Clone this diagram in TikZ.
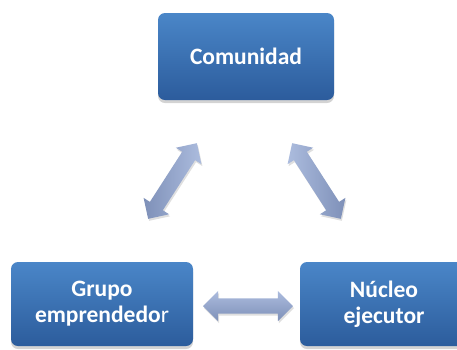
\documentclass[tikz,border=0pt]{standalone}
\usepackage{fontspec}
\setmainfont{Carlito}
\usetikzlibrary{shapes.arrows,shadows}
\definecolor{boxtop}{RGB}{74,134,200}
\definecolor{boxbot}{RGB}{44,92,156}
\definecolor{arlight}{RGB}{172,188,222}
\definecolor{ardark}{RGB}{126,144,184}
\begin{document}
\begin{tikzpicture}[x=1pt,y=-1pt,
  blockbox/.style={rectangle,rounded corners=7pt,top color=boxtop,bottom color=boxbot,
    draw=none,text=white,font=\bfseries\fontsize{23.5}{26}\selectfont,align=center,
    inner sep=0pt,drop shadow={opacity=0.35,shadow xshift=0pt,shadow yshift=-3pt}},
  blockarrow/.style={double arrow,draw=none,minimum height=90pt,
    inner xsep=0pt,inner ysep=7.5pt,double arrow head extend=7.5pt,anchor=center,
    drop shadow={opacity=0.25,shadow xshift=1pt,shadow yshift=-2pt}}]
\useasboundingbox (0,0) rectangle (457,349);
\node[blockbox,minimum width=176pt,minimum height=87pt] (com) at (246,56.5) {Comunidad};
\node[blockbox,minimum width=182pt,minimum height=84pt] (gru) at (102,304) {Grupo\\emprendedo{\mdseries r}};
\node[blockbox,minimum width=168pt,minimum height=84pt] (nuc) at (384,304) {Núcleo\\ejecutor};
\node[blockarrow,rotate=57.2,left color=ardark,right color=arlight] (a1) at (172.5,181) {};
\node[blockarrow,rotate=-57.2,left color=arlight,right color=ardark] (a2) at (316.5,181) {};
\node[blockarrow,top color=arlight,bottom color=ardark] (a3) at (248,306) {};
\end{tikzpicture}
\end{document}
